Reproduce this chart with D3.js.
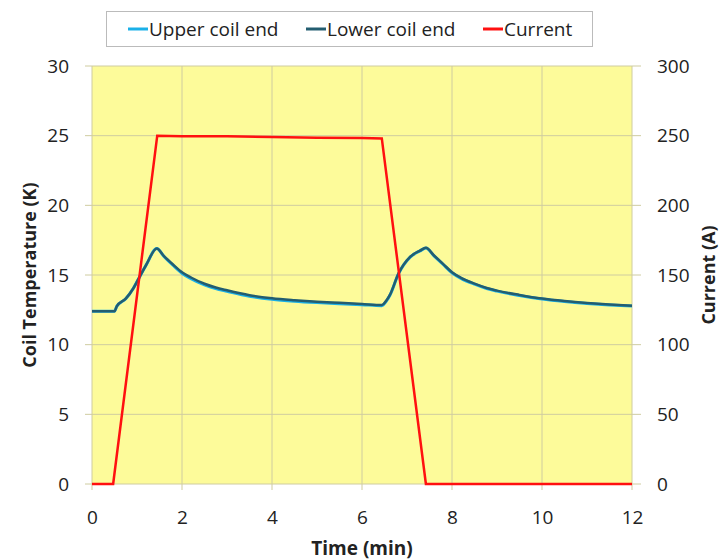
<!DOCTYPE html>
<html>
<head>
<meta charset="utf-8">
<script src="https://cdn.jsdelivr.net/npm/d3@7"></script>
<style>
  body { margin: 0; background: #fff; }
  text { font-family: 'Open Sans', sans-serif; fill: #222; }
</style>
</head>
<body>
<div id="chart-area"></div>
<script>
// data
const tempTime = [0, 0.5, 0.55, 0.75, 0.92, 1.03, 1.2, 1.44, 1.6, 1.8, 2.0, 2.2, 2.5, 2.75, 3.0, 3.5, 4.0, 4.5, 5.0, 5.5, 6.0, 6.44, 6.55, 6.62, 6.81, 7.07, 7.29, 7.42, 7.6, 7.8, 8.0, 8.2, 8.5, 8.77, 9.0, 9.5, 10.0, 10.5, 11, 11.5, 12]
const lowerTemp = [12.4, 12.4, 12.75, 13.3, 14.05, 14.7, 15.7, 16.9, 16.35, 15.75, 15.2, 14.82, 14.37, 14.1, 13.9, 13.55, 13.33, 13.19, 13.08, 13.0, 12.92, 12.85, 13.2, 13.57, 15.1, 16.3, 16.75, 16.95, 16.4, 15.8, 15.2, 14.8, 14.38, 14.07, 13.88, 13.57, 13.31, 13.13, 12.99, 12.88, 12.8]
const upperTemp = [12.4, 12.4, 12.75, 13.3, 14.05, 14.7, 15.7, 16.9, 16.33, 15.7, 15.13, 14.74, 14.29, 14.02, 13.83, 13.48, 13.26, 13.12, 13.02, 12.94, 12.87, 12.8, 13.17, 13.55, 15.08, 16.28, 16.73, 16.93, 16.37, 15.77, 15.16, 14.76, 14.34, 14.03, 13.84, 13.53, 13.28, 13.1, 12.96, 12.85, 12.77]
const currentTime = [0, 0.47, 1.45, 2, 3, 4, 5, 6, 6.44, 7.42, 8, 12]
const current = [0, 0, 250, 249.5, 249.5, 249, 248.5, 248.3, 248, 0, 0, 0]

const xTicks = [0, 2, 4, 6, 8, 10, 12]
const tempTicks = [0, 5, 10, 15, 20, 25, 30]
const currentTicks = [0, 50, 100, 150, 200, 250, 300]

const margin = {top: 66, right: 90, bottom: 76, left: 92}
const width = 722 - margin.left - margin.right
const height = 560 - margin.top - margin.bottom

const svg = d3.select('#chart-area')
  .append('svg')
    .attr('width', 722)
    .attr('height', 560)

const g = svg.append('g')
  .attr('transform', `translate(${margin.left},${margin.top})`)

const x = d3.scaleLinear().domain([0, 12]).range([0, width])
const yT = d3.scaleLinear().domain([0, 30]).range([height, 0])
const yI = d3.scaleLinear().domain([0, 300]).range([height, 0])

g.append('rect')
  .attr('width', width)
  .attr('height', height)
  .attr('fill', '#fdfb9a')

const gridColor = '#cfcca0'

// grid, with the little outside ticks
g.selectAll('.hgrid')
  .data(tempTicks)
  .enter().append('line')
    .attr('x1', -7).attr('x2', width + 9)
    .attr('y1', d => yT(d)).attr('y2', d => yT(d))
    .attr('stroke', gridColor)
    .attr('stroke-width', 1)

g.selectAll('.vgrid')
  .data(xTicks)
  .enter().append('line')
    .attr('x1', d => x(d)).attr('x2', d => x(d))
    .attr('y1', 0).attr('y2', height + 6)
    .attr('stroke', gridColor)
    .attr('stroke-width', 1)

// axes
const xAxis = g.append('g')
  .attr('transform', `translate(0,${height})`)
  .call(d3.axisBottom(x).tickValues(xTicks).tickSize(0).tickPadding(27))

const yAxisL = g.append('g')
  .call(d3.axisLeft(yT).tickValues(tempTicks).tickSize(0).tickPadding(23))

const yAxisR = g.append('g')
  .attr('transform', `translate(${width},0)`)
  .call(d3.axisRight(yI).tickValues(currentTicks).tickSize(0).tickPadding(25))

;[xAxis, yAxisL, yAxisR].forEach(a => {
  a.select('.domain').remove()
  a.selectAll('text')
    .attr('font-size', '19px')
    .attr('fill', '#222')
    .style('font-family', "'Open Sans', sans-serif")
})

// lines
const tempLine = vals => d3.line()
  .x((d, i) => x(tempTime[i]))
  .y(d => yT(d))
  .curve(d3.curveMonotoneX)(vals)

g.append('path')
  .attr('d', tempLine(upperTemp))
  .attr('fill', 'none')
  .attr('stroke', '#1ab0e8')
  .attr('stroke-width', 3)

g.append('path')
  .attr('d', tempLine(lowerTemp))
  .attr('fill', 'none')
  .attr('stroke', '#235d70')
  .attr('stroke-width', 2.5)

const currentLine = d3.line()
  .x((d, i) => x(currentTime[i]))
  .y(d => yI(d))

g.append('path')
  .attr('d', currentLine(current))
  .attr('fill', 'none')
  .attr('stroke', '#ff1010')
  .attr('stroke-width', 2.5)

// axis titles
g.append('text')
  .attr('x', width / 2)
  .attr('y', height + 71)
  .attr('font-size', '19px')
  .attr('font-weight', 'bold')
  .attr('text-anchor', 'middle')
  .text('Time (min)')

g.append('text')
  .attr('x', -height / 2)
  .attr('y', -56)
  .attr('font-size', '18px')
  .attr('font-weight', 'bold')
  .attr('text-anchor', 'middle')
  .attr('transform', 'rotate(-90)')
  .text('Coil Temperature (K)')

g.append('text')
  .attr('x', -height / 2)
  .attr('y', width + 83)
  .attr('font-size', '18px')
  .attr('font-weight', 'bold')
  .attr('text-anchor', 'middle')
  .attr('transform', 'rotate(-90)')
  .text('Current (A)')

// legend
const legendItems = [
  {name: 'Upper coil end', color: '#1ab0e8', x: 128},
  {name: 'Lower coil end', color: '#235d70', x: 306},
  {name: 'Current', color: '#ff1010', x: 483}
]

svg.append('rect')
  .attr('x', 106.5).attr('y', 11.5)
  .attr('width', 486).attr('height', 35)
  .attr('fill', '#fff')
  .attr('stroke', '#bbb')

const legend = svg.selectAll('.legend')
  .data(legendItems)
  .enter().append('g')
    .attr('transform', d => `translate(${d.x},29)`)

legend.append('line')
  .attr('x1', 0).attr('x2', 20)
  .attr('stroke', d => d.color)
  .attr('stroke-width', 3)

legend.append('text')
  .attr('x', 21)
  .attr('dy', '0.35em')
  .attr('font-size', '19px')
  .text(d => d.name)
</script>
</body>
</html>
